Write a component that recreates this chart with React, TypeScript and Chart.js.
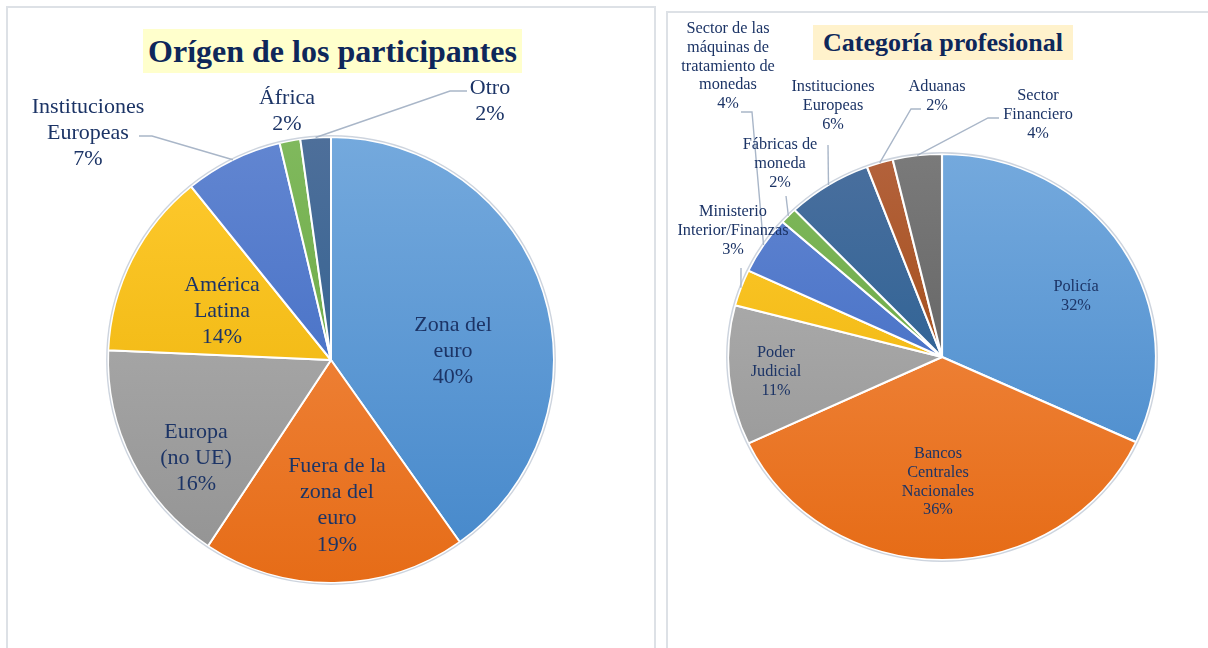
import React, { useEffect, useRef } from 'react';
import { Chart, registerables } from 'chart.js';

Chart.register(...registerables);

// ---------- Data: Orígen de los participantes ----------
const originCategories = [
  'Zona del euro',
  'Fuera de la zona del euro',
  'Europa (no UE)',
  'América Latina',
  'Instituciones Europeas',
  'África',
  'Otro',
];
const originValues = [40.2, 19.1, 16.4, 13.5, 7.1, 1.5, 2.2];
const originPercentLabels = ['40%', '19%', '16%', '14%', '7%', '2%', '2%'];
const originLabelLines = [
  ['Zona del', 'euro'],
  ['Fuera de la', 'zona del', 'euro'],
  ['Europa', '(no UE)'],
  ['América', 'Latina'],
  ['Instituciones', 'Europeas'],
  ['África'],
  ['Otro'],
];

// ---------- Data: Categoría profesional ----------
const profCategories = [
  'Policía',
  'Bancos Centrales Nacionales',
  'Poder Judicial',
  'Ministerio Interior/Finanzas',
  'Sector de las máquinas de tratamiento de monedas',
  'Fábricas de moneda',
  'Instituciones Europeas',
  'Aduanas',
  'Sector Financiero',
];
const profValues = [31.9, 36.1, 11.1, 2.9, 4.6, 1.3, 6.4, 2.0, 3.7];
const profPercentLabels = ['32%', '36%', '11%', '3%', '4%', '2%', '6%', '2%', '4%'];
const profLabelLines = [
  ['Policía'],
  ['Bancos', 'Centrales', 'Nacionales'],
  ['Poder', 'Judicial'],
  ['Ministerio', 'Interior/Finanzas'],
  ['Sector de las', 'máquinas de', 'tratamiento de', 'monedas'],
  ['Fábricas de', 'moneda'],
  ['Instituciones', 'Europeas'],
  ['Aduanas'],
  ['Sector', 'Financiero'],
];

// ---------- Styles / layout ----------
const originGradients: [string, string][] = [
  ['#74A9DD', '#4487CA'],
  ['#F4914F', '#E66C17'],
  ['#B5B5B5', '#929292'],
  ['#FFCB30', '#E8AD00'],
  ['#6286D1', '#3563C0'],
  ['#80B95D', '#5F9F36'],
  ['#4E6F9A', '#215A8C'],
];
const profGradients: [string, string][] = [
  ['#74A9DD', '#4487CA'],
  ['#F4914F', '#E66C17'],
  ['#B5B5B5', '#929292'],
  ['#FFCB30', '#E8AD00'],
  ['#6286D1', '#3563C0'],
  ['#80B95D', '#5F9F36'],
  ['#4A6F9E', '#1B5A8E'],
  ['#B3623C', '#9A4000'],
  ['#7A7A7A', '#555555'],
];

const TEXT_COLOR = '#1C3466';
const LEADER_COLOR = '#A9B6C8';

type PieLayout = {
  positions: [number, number][];
  leaders: ([number, number][] | null)[];
  fontSize: number;
  lineHeight: number;
  sx: number;
};

const originLayout: PieLayout = {
  positions: [
    [453, 325],
    [337, 466],
    [196, 432],
    [222, 285],
    [88, 107],
    [287, 98],
    [490, 88],
  ],
  leaders: [null, null, null, null, [[139, 136], [152, 136]], null, [[467, 91], [450, 91]]],
  fontSize: 22,
  lineHeight: 26.3,
  sx: 1,
};

const profLayout: PieLayout = {
  positions: [
    [416, 287],
    [278, 454],
    [116, 353],
    [73, 212],
    [68, 29],
    [120, 145],
    [173, 87],
    [277, 87],
    [378, 96],
  ],
  leaders: [
    null,
    null,
    null,
    [[81, 268]],
    [[81, 112], [92, 112]],
    [[126, 196]],
    [[168, 145]],
    [[261, 109], [251, 109]],
    [[339, 118], [328, 118]],
  ],
  fontSize: 16.3,
  lineHeight: 18.7,
  sx: 1.054,
};

function makePlugins(
  layout: PieLayout,
  labelLines: string[][],
  pct: string[]
) {
  const ellipse = {
    id: 'ellipse',
    beforeDatasetsDraw(chart: any) {
      const ctx = chart.ctx;
      const arc = chart.getDatasetMeta(0).data[0];
      if (!arc) return;
      ctx.save();
      ctx.translate(arc.x, arc.y);
      ctx.scale(layout.sx, 1);
      ctx.translate(-arc.x, -arc.y);
    },
    afterDatasetsDraw(chart: any) {
      const ctx = chart.ctx;
      const arc = chart.getDatasetMeta(0).data[0];
      if (!arc) return;
      ctx.beginPath();
      ctx.arc(arc.x, arc.y, arc.outerRadius + 1.2, 0, Math.PI * 2);
      ctx.strokeStyle = 'rgba(200,207,218,0.9)';
      ctx.lineWidth = 1.4;
      ctx.stroke();
      ctx.restore();
    },
  };
  const labels = {
    id: 'sliceLabels',
    afterDraw(chart: any) {
      const ctx = chart.ctx;
      const meta = chart.getDatasetMeta(0);
      ctx.save();
      ctx.strokeStyle = LEADER_COLOR;
      ctx.lineWidth = 1.4;
      layout.leaders.forEach((pts, i) => {
        if (!pts) return;
        const arc = meta.data[i];
        const p = arc.getProps(['x', 'y', 'startAngle', 'endAngle', 'outerRadius'], true);
        const a = (p.startAngle + p.endAngle) / 2;
        const ex = p.x + Math.cos(a) * p.outerRadius * layout.sx;
        const ey = p.y + Math.sin(a) * p.outerRadius;
        ctx.beginPath();
        ctx.moveTo(pts[0][0], pts[0][1]);
        for (let k = 1; k < pts.length; k++) ctx.lineTo(pts[k][0], pts[k][1]);
        ctx.lineTo(ex, ey);
        ctx.stroke();
      });
      ctx.font = `${layout.fontSize}px "Liberation Serif", "Times New Roman", serif`;
      ctx.fillStyle = TEXT_COLOR;
      ctx.textAlign = 'center';
      ctx.textBaseline = 'middle';
      labelLines.forEach((lines, i) => {
        const all = [...lines, pct[i]];
        const [lx, ly] = layout.positions[i];
        all.forEach((t, k) => ctx.fillText(t, lx, ly + k * layout.lineHeight));
      });
      ctx.restore();
    },
  };
  return [ellipse, labels];
}

function gradientFill(gradients: [string, string][]) {
  return (c: any) => {
    const chart = c.chart;
    const area = chart.chartArea;
    const g = gradients[c.dataIndex] || gradients[0];
    if (!area) return g[1];
    const meta = chart.getDatasetMeta(0);
    const arc = meta.data[0];
    const r = arc && arc.outerRadius ? arc.outerRadius : (area.bottom - area.top) / 2;
    const cy = arc && arc.y ? arc.y : (area.top + area.bottom) / 2;
    const grad = chart.ctx.createLinearGradient(0, cy - r, 0, cy + r);
    grad.addColorStop(0, g[0]);
    grad.addColorStop(1, g[1]);
    return grad;
  };
}

function PieCanvas(props: {
  width: number;
  height: number;
  left: number;
  categories: string[];
  values: number[];
  gradients: [string, string][];
  radius: number;
  padding: { left: number; right: number; top: number; bottom: number };
  layout: PieLayout;
  labelLines: string[][];
  pct: string[];
}) {
  const ref = useRef<HTMLCanvasElement | null>(null);
  useEffect(() => {
    if (!ref.current) return;
    const chart = new Chart(ref.current, {
      type: 'pie',
      data: {
        labels: props.categories,
        datasets: [
          {
            data: props.values,
            backgroundColor: gradientFill(props.gradients) as any,
            borderColor: '#FFFFFF',
            borderWidth: 2,
          },
        ],
      },
      options: {
        responsive: false,
        animation: false,
        radius: props.radius,
        layout: { padding: props.padding },
        plugins: {
          legend: { display: false },
          tooltip: { enabled: false },
          title: { display: false },
        },
      } as any,
      plugins: makePlugins(props.layout, props.labelLines, props.pct) as any,
    });
    return () => chart.destroy();
  }, []);
  return (
    <canvas
      ref={ref}
      width={props.width}
      height={props.height}
      style={{
        position: 'absolute',
        left: props.left,
        top: 0,
        width: props.width,
        height: props.height,
      }}
    />
  );
}

export default function App() {
  const titleFont = '"Liberation Serif", "Times New Roman", serif';
  return (
    <div
      style={{
        position: 'fixed',
        left: 0,
        top: 0,
        width: 1208,
        height: 648,
        background: '#FFFFFF',
        overflow: 'hidden',
      }}
    >
      <div
        style={{
          position: 'absolute',
          left: 6,
          top: 6,
          width: 650,
          height: 700,
          border: '2px solid #DDE1E6',
          boxSizing: 'border-box',
        }}
      />
      <div
        style={{
          position: 'absolute',
          left: 666,
          top: 11,
          width: 600,
          height: 700,
          border: '2px solid #DDE1E6',
          boxSizing: 'border-box',
        }}
      />
      <PieCanvas
        width={660}
        height={648}
        left={0}
        categories={originCategories}
        values={originValues}
        gradients={originGradients}
        radius={223}
        padding={{ left: 108, right: 106, top: 137, bottom: 65 }}
        layout={originLayout}
        labelLines={originLabelLines}
        pct={originPercentLabels}
      />
      <PieCanvas
        width={548}
        height={648}
        left={660}
        categories={profCategories}
        values={profValues}
        gradients={profGradients}
        radius={203}
        padding={{ left: 79, right: 63, top: 154, bottom: 88 }}
        layout={profLayout}
        labelLines={profLabelLines}
        pct={profPercentLabels}
      />
      <div
        style={{
          position: 'absolute',
          left: 143,
          top: 29,
          width: 379,
          height: 44,
          background: '#FFFFCC',
          color: '#0E275A',
          fontFamily: titleFont,
          fontWeight: 'bold',
          fontSize: 32,
          lineHeight: '44px',
          textAlign: 'center',
          whiteSpace: 'nowrap',
        }}
      >
        Orígen de los participantes
      </div>
      <div
        style={{
          position: 'absolute',
          left: 813,
          top: 25,
          width: 260,
          height: 35,
          background: '#FFF2CC',
          color: '#0E275A',
          fontFamily: titleFont,
          fontWeight: 'bold',
          fontSize: 26,
          lineHeight: '35px',
          textAlign: 'center',
          whiteSpace: 'nowrap',
        }}
      >
        Categoría profesional
      </div>
    </div>
  );
}
